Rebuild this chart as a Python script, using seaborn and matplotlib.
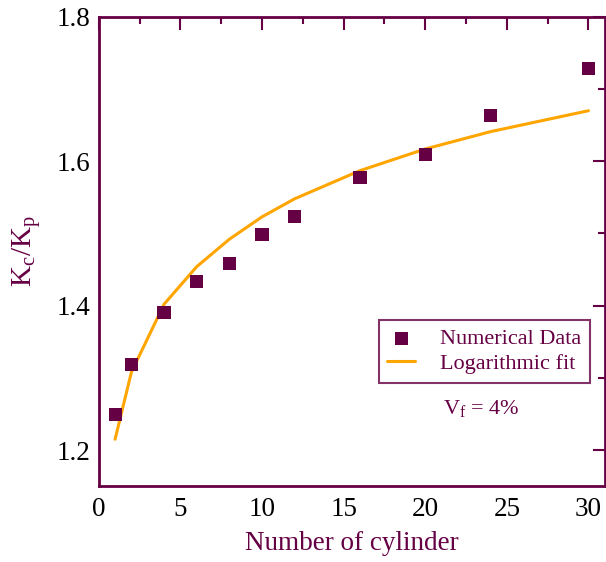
import matplotlib
matplotlib.use("Agg")
import matplotlib.pyplot as plt
import seaborn as sns
import pandas as pd
from matplotlib.ticker import MultipleLocator

sns.set_theme(style="white")
plt.rcParams['font.family'] = ['Liberation Serif', 'DejaVu Serif']
plt.rcParams['mathtext.fontset'] = 'custom'
plt.rcParams['mathtext.rm'] = 'Liberation Serif'
plt.rcParams['mathtext.it'] = 'Liberation Serif'

maroon = '#660044'
orange = '#FFA500'

n_cyl = [1, 2, 4, 6, 8, 10, 12, 16, 20, 24, 30]
numerical = [1.249, 1.318, 1.391, 1.434, 1.458, 1.498, 1.524, 1.578, 1.609, 1.663, 1.728]
fit = [1.215, 1.308, 1.402, 1.454, 1.492, 1.523, 1.548, 1.587, 1.617, 1.641, 1.670]

df = pd.DataFrame({'n': n_cyl, 'num': numerical, 'fit': fit})

fig = plt.figure(figsize=(6.06, 5.62), dpi=100)
ax = fig.add_axes([0.163, 0.135, 0.835, 0.835])

sns.lineplot(data=df, x='n', y='fit', ax=ax, color=orange, lw=2.2,
             label='Logarithmic fit', zorder=2)
sns.scatterplot(data=df, x='n', y='num', ax=ax, marker='s', s=90,
                color=maroon, edgecolor='none', label='Numerical Data', zorder=3)

ax.set_xlim(0, 31)
ax.set_ylim(1.15, 1.8)
ax.xaxis.set_major_locator(MultipleLocator(5))
ax.xaxis.set_minor_locator(MultipleLocator(2.5))
ax.yaxis.set_major_locator(MultipleLocator(0.2))
ax.yaxis.set_minor_locator(MultipleLocator(0.1))
ax.tick_params(which='both', direction='in', top=True, right=True,
               color=maroon, width=1.5, labelsize=19.5, labelcolor='black')
ax.tick_params(which='major', length=9)
ax.tick_params(which='minor', length=5)
ax.tick_params(axis='x', which='both', pad=8)
ax.tick_params(axis='y', which='both', pad=6)
for s in ax.spines.values():
    s.set_color(maroon)
    s.set_linewidth(2)

ax.set_xlabel('Number of cylinder', fontsize=19.5, color=maroon, labelpad=6)
ax.set_ylabel(r'K$_\mathregular{c}$/K$_\mathregular{p}$', fontsize=21, color=maroon,
              labelpad=10)

handles, labels = ax.get_legend_handles_labels()
order = [labels.index('Numerical Data'), labels.index('Logarithmic fit')]
leg = ax.legend([handles[i] for i in order], [labels[i] for i in order],
                loc='lower left', bbox_to_anchor=(0.553, 0.22), fontsize=16,
                frameon=True, fancybox=False, borderpad=0.4, handlelength=1.25,
                handletextpad=1.1, labelspacing=0.2, borderaxespad=0)
leg.get_frame().set_edgecolor(maroon)
leg.get_frame().set_linewidth(1.5)
for t in leg.get_texts():
    t.set_color(maroon)

ax.text(0.68, 0.165, r'V$_\mathregular{f}$ = 4%', transform=ax.transAxes,
        fontsize=16, color=maroon, ha='left', va='center')

fig.savefig('out.png', dpi=100)
